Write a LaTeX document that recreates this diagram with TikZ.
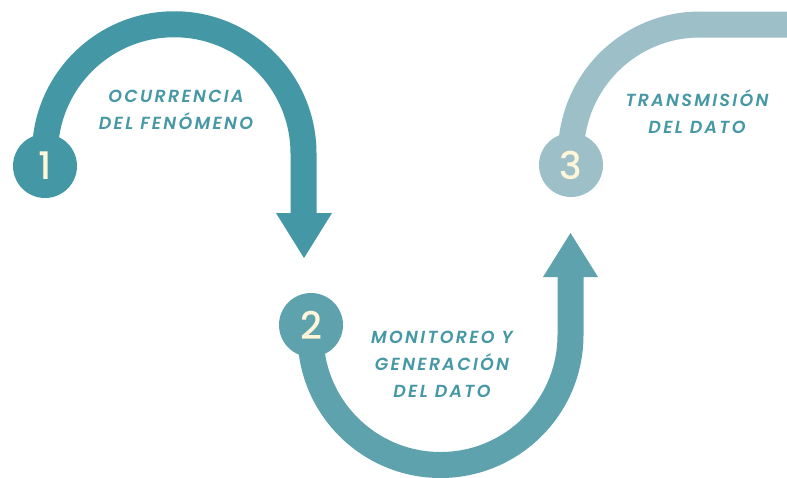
\documentclass[tikz,border=0pt]{standalone}
\usepackage{fontspec}
\newfontfamily\labfont{Poppins}[LetterSpace=13, BoldItalicFont={Poppins SemiBold Italic}]
\newfontfamily\numfont{Poppins Medium}
\definecolor{cone}{HTML}{4497A4}
\definecolor{ctwo}{HTML}{5EA2AE}
\definecolor{cthree}{HTML}{9DBFC8}
\definecolor{ctext}{HTML}{4698A5}
\definecolor{cnum}{HTML}{FFF5D8}
\tikzset{
  x=1pt, y=1pt,
  band/.style={line width=26pt, line cap=butt},
  numcirc/.style={circle, minimum size=64pt, inner sep=0pt, text=cnum, font=\numfont\fontsize{38}{38}\selectfont},
  lab/.style={text=ctext, align=center, font=\labfont\fontsize{17.5}{27}\selectfont\bfseries\itshape}
}
\begin{document}
\begin{tikzpicture}
\useasboundingbox (0,0) rectangle (787,-477);
\clip (0,0) rectangle (787,-477);
% arc 1
\coordinate (a1s) at (45,-166);
\coordinate (a1e) at (303.5,-213);
\draw[band, cone] (a1s) -- ++(0,12.5) arc (180:0:129.25) -- (a1e);
\fill[cone] (276,-213) -- (332,-213) -- (304,-258) -- cycle;
% arc 2
\coordinate (a2s) at (310.5,-325);
\coordinate (a2e) at (570.5,-277);
\draw[band, ctwo] (a2s) -- ++(0,-10) arc (180:360:130) -- (a2e);
\fill[ctwo] (543,-277) -- (598,-277) -- (570.5,-233) -- cycle;
% arc 3
\coordinate (a3s) at (571,-165);
\coordinate (a3e) at (800,-24.5);
\draw[band, cthree] (a3s) -- ++(0,11.5) arc (180:90:129) -- (a3e);
% circles
\node[numcirc, fill=cone] (n1) at (45,-166) {1};
\node[numcirc, fill=ctwo] (n2) at (311,-325) {2};
\node[numcirc, fill=cthree] (n3) at (571,-165) {3};
% labels
\node[lab] (l1) at (176,-110) {OCURRENCIA\\DEL FENÓMENO};
\node[lab] (l2) at (442,-364) {MONITOREO Y\\GENERACIÓN\\DEL DATO};
\node[lab] (l3) at (697,-112) {TRANSMISIÓN\\DEL DATO};
\end{tikzpicture}
\end{document}
